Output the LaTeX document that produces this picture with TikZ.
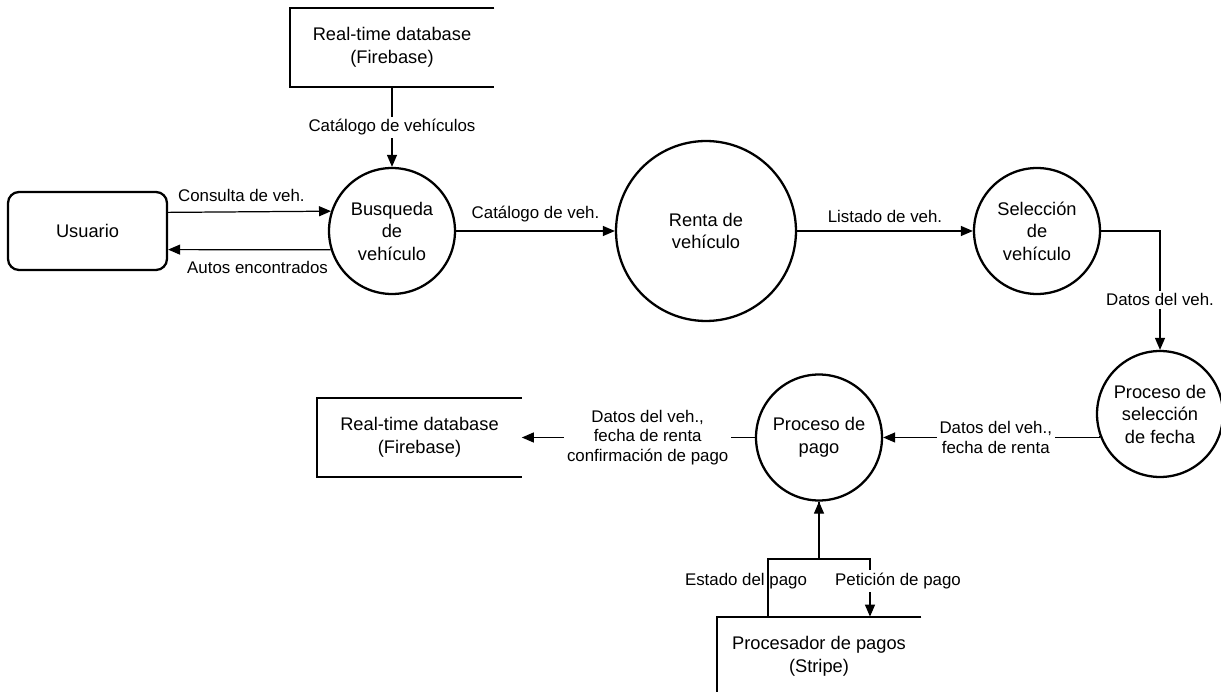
\documentclass[tikz,border=0pt]{standalone}
\usepackage{fontspec}
\setmainfont{Liberation Sans}
\usetikzlibrary{arrows.meta}
\tikzstyle{proc} = [circle,draw,line width=1.3pt,minimum size=2.52cm,inner sep=0pt,align=center,font=\fontsize{10.4}{12.8}\selectfont]
\tikzstyle{actor} = [rectangle,draw,rounded corners=0.22cm,line width=1.3pt,minimum width=3.18cm,minimum height=1.56cm,font=\fontsize{10.4}{12.8}\selectfont]
\tikzstyle{store} = [rectangle,minimum width=4.08cm,minimum height=1.58cm,inner sep=0pt,align=center,font=\fontsize{10.4}{12.8}\selectfont]
\tikzstyle{storeline} = [line width=1.3pt]
\tikzstyle{flow} = [draw,line width=0.7pt,-{Triangle[length=0.24cm,width=0.2cm]}]
\tikzstyle{lbl} = [font=\fontsize{9.6}{11.3}\selectfont,fill=white,inner sep=1.5pt,align=center]

\begin{document}
\begin{tikzpicture}[x=0.02cm, y=-0.02cm]
				\useasboundingbox (0,0) rectangle (1221,692);
				\node[store] (db1) at (392, 47.5) {Real-time database\\(Firebase)};
				\node[actor] (usuario) at (87.5, 231) {Usuario};
				
				\node[proc] (busqueda) at (392, 231) {Busqueda\\de\\vehículo};
				\node[proc, minimum size=3.6cm] (renta) at (706, 231) {Renta de\\vehículo};
				\node[proc] (seleccion) at (1037, 231) {Selección\\de\\vehículo};
				\node[proc] (fecha) at (1160, 414) {Proceso de\\selección\\de fecha};
				\node[proc] (pago) at (819, 437.5) {Proceso de\\pago};
				
				\node[store] (db2) at (419.5, 437.5) {Real-time database\\(Firebase)};
				\node[store] (stripe) at (819, 656.5) {Procesador de pagos\\(Stripe)};
				\coordinate (jl) at (768, 559);
				\coordinate (jr) at (870, 559);

				% data stores are open on the right
				\foreach \s in {db1, db2, stripe}
				\draw[storeline] (\s.north east) -- (\s.north west) -- (\s.south west) -- (\s.south east);

				\path[flow] (db1) -- node[lbl] {Catálogo de vehículos} (busqueda);
				\path[flow] (usuario.13.4) -- node[lbl, above=4pt, pos=0.45] {Consulta de veh.} (busqueda.162.5);
				\path[flow] (busqueda.197.5) -- node[lbl, below=5pt, pos=0.45] {Autos encontrados} (usuario.-13.4);
				\foreach \source/\dest/\lab in {busqueda/renta/{Catálogo de veh.}, renta/seleccion/{Listado de veh.}}
				\path[flow] (\source) -- node[lbl, above=3pt] {\lab} (\dest);
				\path[flow] (seleccion) -| node[lbl, pos=0.79] {Datos del veh.} (fecha);
				\path[flow] (fecha.200) |- node[lbl, pos=0.74] {Datos del veh.,\\fecha de renta} (pago);
				\path[flow] (pago) -- node[lbl, pos=0.46] {Datos del veh.,\\fecha de renta\\confirmación de pago} (db2);

				% payment processor
				\path[flow] (stripe.north -| jl) -- node[lbl, fill=none, pos=0.62, xshift=-0.44cm] {Estado del pago} (jl) -- (jl -| pago) -- (pago);
				\path[flow] (pago) -- (jr -| pago) -- (jr) -- node[lbl, pos=0.38, xshift=0.56cm] {Petición de pago} (stripe.north -| jr);
			\end{tikzpicture}
\end{document}
